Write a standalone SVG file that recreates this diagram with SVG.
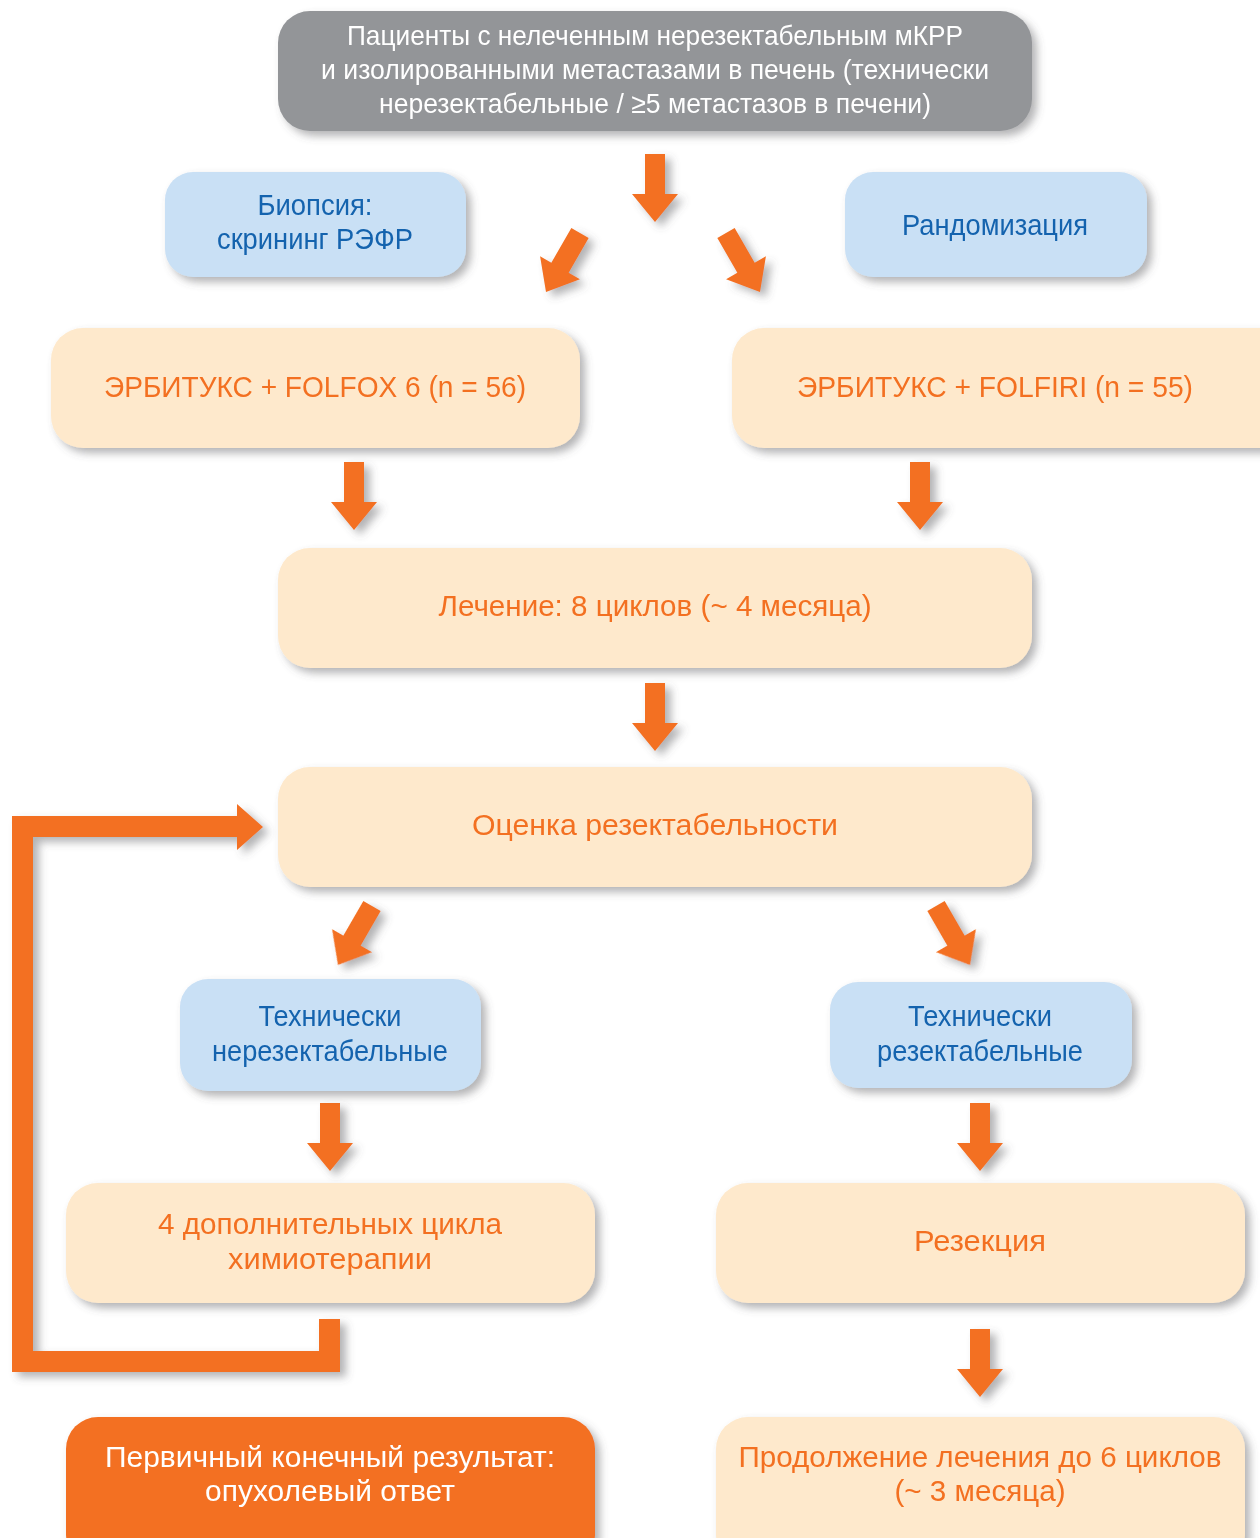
<svg xmlns="http://www.w3.org/2000/svg" width="1260" height="1538" viewBox="0 0 1260 1538">
<style>
.t{font-family:"Liberation Sans",Arial,sans-serif;font-size:29px;text-anchor:middle}
.top{font-family:"Liberation Sans Narrow","Liberation Sans",Arial,sans-serif;font-size:28px;text-anchor:middle;fill:#ffffff}
.blue{fill:#c9e0f5}
.bt{fill:#1463ae}
.peach{fill:#fee9cc}
.ot{fill:#f37021}
.wt{fill:#ffffff}
.arr{fill:#f37021}
</style>
<defs>
<filter id="sh" x="-10%" y="-10%" width="125%" height="135%">
<feDropShadow dx="5" dy="5" stdDeviation="4" flood-color="#58595b" flood-opacity="0.45"/>
</filter>
<filter id="ash" x="-50%" y="-30%" width="220%" height="170%">
<feDropShadow dx="6" dy="5" stdDeviation="4" flood-color="#58595b" flood-opacity="0.45"/>
</filter>
<path id="da" d="M-10 0 H10 V40 H23 L0 68 L-23 40 H-10 Z"/>
</defs>
<rect width="1260" height="1538" fill="#ffffff"/>

<g id="connectors" filter="url(#ash)">
<use href="#da" class="arr" transform="translate(655,154)"/>
<use href="#da" class="arr" transform="translate(580,233) rotate(30)"/>
<use href="#da" class="arr" transform="translate(726,233) rotate(-30)"/>
<use href="#da" class="arr" transform="translate(354,462)"/>
<use href="#da" class="arr" transform="translate(920,462)"/>
<use href="#da" class="arr" transform="translate(655,683)"/>
<use href="#da" class="arr" transform="translate(372,906) rotate(30)"/>
<use href="#da" class="arr" transform="translate(936,906) rotate(-30)"/>
<use href="#da" class="arr" transform="translate(330,1103)"/>
<use href="#da" class="arr" transform="translate(980,1103)"/>
<use href="#da" class="arr" transform="translate(980,1329)"/>
<polygon class="arr" points="12,816 237,816 237,804 263,827 237,850 237,837 33,837 33,1351 319,1351 319,1319 340,1319 340,1372 12,1372"/>
</g>

<g id="n_patients">
<rect x="278" y="11" width="754" height="120" rx="32" fill="#939598" filter="url(#sh)"/>
<text class="top" x="655" y="45" textLength="616" lengthAdjust="spacingAndGlyphs">Пациенты с нелеченным нерезектабельным мКРР</text>
<text class="top" x="655" y="79" textLength="668" lengthAdjust="spacingAndGlyphs">и изолированными метастазами в печень (технически</text>
<text class="top" x="655" y="113" textLength="552" lengthAdjust="spacingAndGlyphs">нерезектабельные / ≥5 метастазов в печени)</text>
</g>

<g id="n_biopsy">
<rect class="blue" x="165" y="172" width="301" height="105" rx="28" filter="url(#sh)"/>
<text class="t bt" x="315" y="215" textLength="115" lengthAdjust="spacingAndGlyphs">Биопсия:</text>
<text class="t bt" x="315" y="249" textLength="196" lengthAdjust="spacingAndGlyphs">скрининг РЭФР</text>
</g>

<g id="n_random">
<rect class="blue" x="845" y="172" width="302" height="105" rx="28" filter="url(#sh)"/>
<text class="t bt" x="995" y="235" textLength="186" lengthAdjust="spacingAndGlyphs">Рандомизация</text>
</g>

<g id="n_folfox">
<rect class="peach" x="51" y="328" width="529" height="120" rx="32" filter="url(#sh)"/>
<text class="t ot" x="315" y="397" textLength="422" lengthAdjust="spacingAndGlyphs">ЭРБИТУКС + FOLFOX 6 (n = 56)</text>
</g>

<g id="n_folfiri">
<rect class="peach" x="732" y="328" width="560" height="120" rx="32" filter="url(#sh)"/>
<text class="t ot" x="995" y="397" textLength="396" lengthAdjust="spacingAndGlyphs">ЭРБИТУКС + FOLFIRI (n = 55)</text>
</g>

<g id="n_treatment">
<rect class="peach" x="278" y="548" width="754" height="120" rx="32" filter="url(#sh)"/>
<text class="t ot" x="655" y="616" textLength="433" lengthAdjust="spacingAndGlyphs">Лечение: 8 циклов (~ 4 месяца)</text>
</g>

<g id="n_assessment">
<rect class="peach" x="278" y="767" width="754" height="120" rx="32" filter="url(#sh)"/>
<text class="t ot" x="655" y="835" textLength="366" lengthAdjust="spacingAndGlyphs">Оценка резектабельности</text>
</g>

<g id="n_unres">
<rect class="blue" x="180" y="979" width="301" height="112" rx="28" filter="url(#sh)"/>
<text class="t bt" x="330" y="1026" textLength="143" lengthAdjust="spacingAndGlyphs">Технически</text>
<text class="t bt" x="330" y="1061" textLength="236" lengthAdjust="spacingAndGlyphs">нерезектабельные</text>
</g>

<g id="n_res">
<rect class="blue" x="830" y="982" width="302" height="106" rx="28" filter="url(#sh)"/>
<text class="t bt" x="980" y="1026" textLength="144" lengthAdjust="spacingAndGlyphs">Технически</text>
<text class="t bt" x="980" y="1061" textLength="206" lengthAdjust="spacingAndGlyphs">резектабельные</text>
</g>

<g id="n_chemo">
<rect class="peach" x="66" y="1183" width="529" height="120" rx="32" filter="url(#sh)"/>
<text class="t ot" x="330" y="1234" textLength="344" lengthAdjust="spacingAndGlyphs">4 дополнительных цикла</text>
<text class="t ot" x="330" y="1269" textLength="204" lengthAdjust="spacingAndGlyphs">химиотерапии</text>
</g>

<g id="n_resection">
<rect class="peach" x="716" y="1183" width="529" height="120" rx="32" filter="url(#sh)"/>
<text class="t ot" x="980" y="1251" textLength="132" lengthAdjust="spacingAndGlyphs">Резекция</text>
</g>

<g id="n_primary">
<rect x="66" y="1417" width="529" height="150" rx="32" fill="#f37021" filter="url(#sh)"/>
<text class="t wt" x="330" y="1467" textLength="450" lengthAdjust="spacingAndGlyphs">Первичный конечный результат:</text>
<text class="t wt" x="330" y="1501" textLength="250" lengthAdjust="spacingAndGlyphs">опухолевый ответ</text>
</g>

<g id="n_continue">
<rect class="peach" x="716" y="1417" width="529" height="150" rx="32" filter="url(#sh)"/>
<text class="t ot" x="980" y="1467" textLength="483" lengthAdjust="spacingAndGlyphs">Продолжение лечения до 6 циклов</text>
<text class="t ot" x="980" y="1501" textLength="171" lengthAdjust="spacingAndGlyphs">(~ 3 месяца)</text>
</g>
</svg>
